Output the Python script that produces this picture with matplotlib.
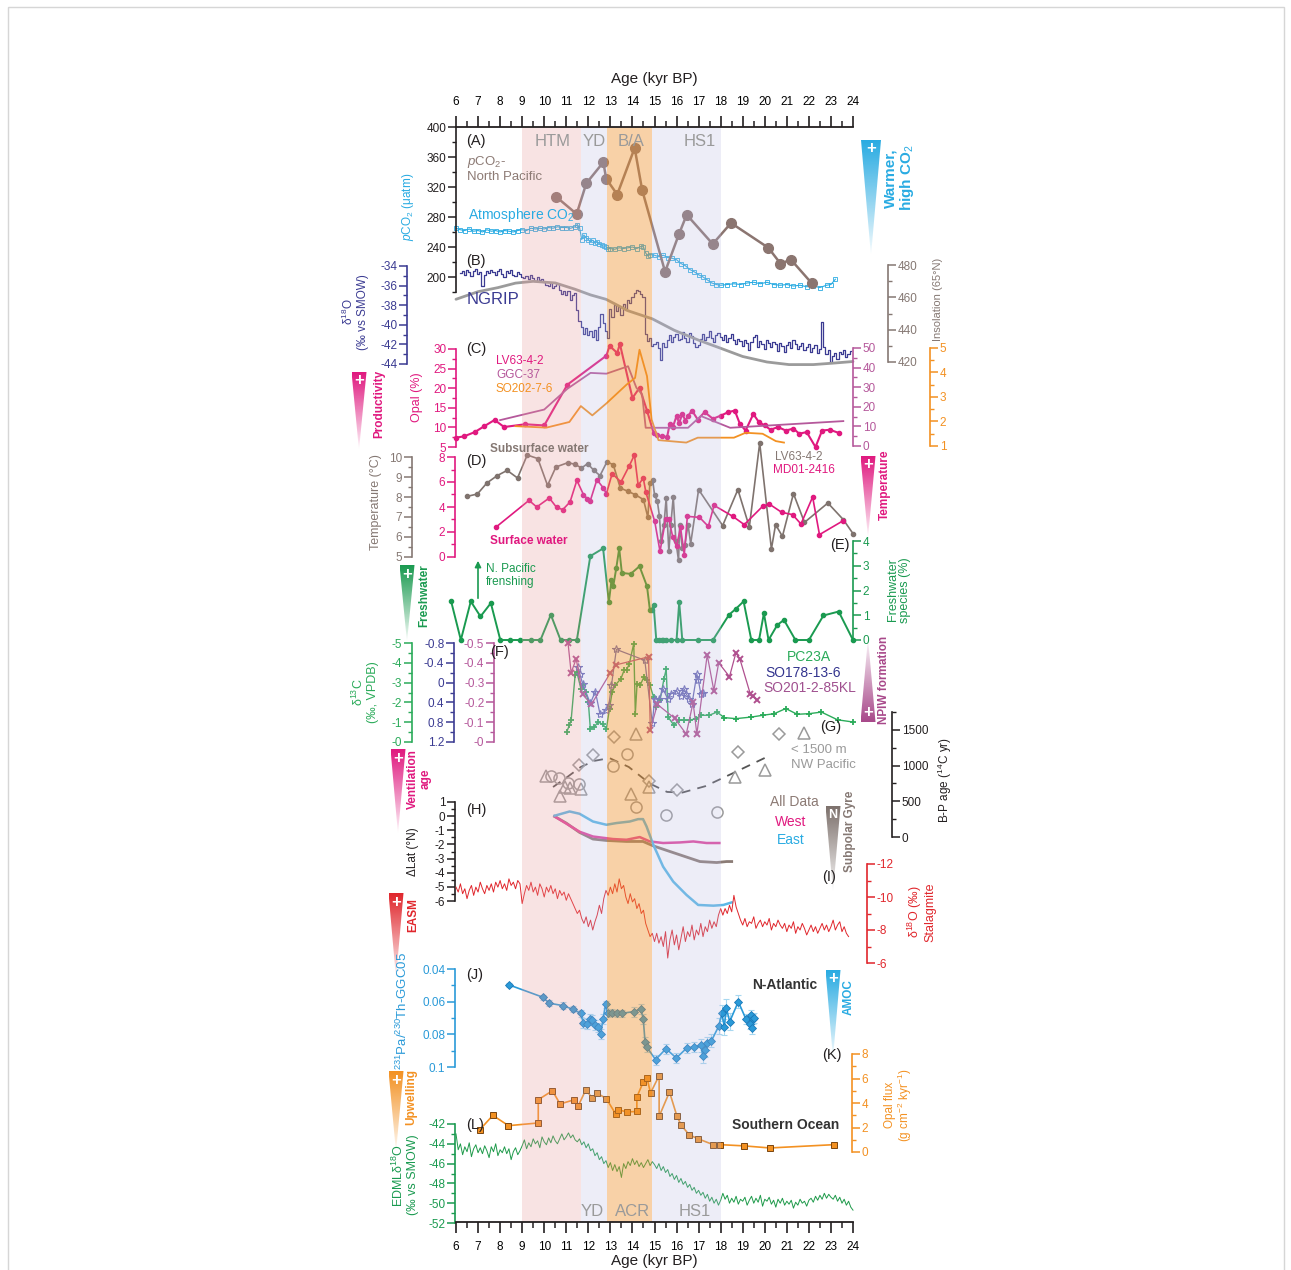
import numpy as np
import matplotlib

matplotlib.use("Agg")
import matplotlib.pyplot as plt
from matplotlib.colors import to_rgb
from matplotlib.patches import Polygon, Rectangle
from matplotlib.ticker import MultipleLocator, FuncFormatter

plt.rcParams["font.family"] = ["Liberation Sans", "DejaVu Sans"]
plt.rcParams["mathtext.fontset"] = "custom"
plt.rcParams["mathtext.rm"] = "Liberation Sans"
plt.rcParams["mathtext.it"] = "Liberation Sans:italic"
plt.rcParams["mathtext.bf"] = "Liberation Sans:bold"
plt.rcParams["axes.unicode_minus"] = False

W, H = 1291, 1270
X0, X1 = 456, 853          # pixel columns of the 6 and 24 kyr ticks
AGE_MIN, AGE_MAX = 6, 24

# ---------------- climate intervals ----------------
INTERVALS = [(9.0, 11.65, "#e89a9a", 0.27), (11.65, 12.85, "#b8b8e0", 0.25),
             (12.85, 14.87, "#f0922e", 0.42), (14.87, 18.0, "#b8b8e0", 0.25)]

# ---------------- (A) CO2 ----------------
PCO2_NPAC = [(10.54, 307), (11.47, 284), (11.91, 325), (12.68, 353), (12.81, 331),
             (13.31, 310), (14.10, 372), (14.44, 316), (15.48, 207), (16.12, 258),
             (16.46, 283), (17.64, 244), (18.47, 272), (20.16, 239), (20.71, 218),
             (21.19, 223), (22.12, 192)]
CO2_ATM = [(6.0, 265), (6.2, 263), (6.4, 262), (6.6, 264), (6.8, 261), (7.0, 262), (7.2, 260),
           (7.4, 263), (7.6, 261), (7.8, 262), (8.0, 260), (8.2, 262), (8.4, 261), (8.6, 260),
           (8.8, 262), (9.0, 263), (9.2, 262), (9.4, 265), (9.6, 264), (9.8, 265), (10.0, 264),
           (10.2, 266), (10.4, 265), (10.6, 267), (10.8, 266), (11.0, 266), (11.2, 265),
           (11.4, 267), (11.5, 270), (11.6, 266), (11.7, 250), (11.8, 256), (11.9, 252),
           (12.0, 250), (12.1, 247), (12.2, 249), (12.3, 245), (12.4, 247), (12.5, 244),
           (12.6, 243), (12.7, 241), (12.8, 240), (12.9, 238), (13.0, 238), (13.2, 237),
           (13.4, 239), (13.6, 238), (13.8, 239), (14.0, 240), (14.2, 238), (14.4, 241),
           (14.5, 240), (14.6, 232), (14.7, 228), (14.8, 230), (15.0, 229), (15.2, 227),
           (15.4, 229), (15.6, 226), (15.8, 225), (16.0, 223), (16.2, 218), (16.4, 215),
           (16.6, 210), (16.8, 207), (17.0, 203), (17.2, 200), (17.4, 196), (17.6, 192),
           (17.8, 190), (18.0, 189), (18.3, 190), (18.6, 191), (18.9, 190), (19.2, 192),
           (19.5, 193), (19.8, 191), (20.1, 193), (20.4, 190), (20.7, 189), (21.0, 190),
           (21.3, 188), (21.6, 189), (21.9, 187), (22.2, 188), (22.5, 186), (22.8, 189),
           (23.0, 190), (23.2, 197)]

# ---------------- (B) NGRIP + insolation ----------------
NGRIP_START = 6.2   # 0.1 kyr steps
NGRIP_D18O = [-34.7, -34.5, -34.9, -34.4, -34.6, -35.0, -34.5, -34.3, -34.8, -34.6, -36.0, -34.9,
              -34.5, -34.7, -34.4, -34.6, -34.9, -34.5, -34.3, -34.8, -35.1, -34.5, -34.7, -34.4,
              -34.9, -35.0, -34.6, -34.8, -35.1,
              -35.2, -35.0, -35.3, -34.9, -35.2, -35.5, -35.1, -35.4, -35.3, -35.6,
              -35.9, -36.0, -35.7, -36.2, -36.0, -35.8, -36.4, -36.9, -36.5, -37.0,
              -36.6, -37.5, -37.0, -36.8, -38.5, -39.6, -40.2,
              -40.9, -40.3, -41.0, -40.6, -41.2, -40.5, -41.5, -40.2, -38.9, -39.8, -40.6, -41.3,
              -38.4, -39.2, -38.0, -38.6, -38.2, -39.0, -37.9, -38.5, -37.5, -37.8, -37.2, -36.8,
              -36.4, -36.6, -36.9, -37.2, -40.9,
              -41.7, -41.3, -42.2, -42.0,
              -41.8, -42.4, -43.6, -41.9, -42.3, -41.5, -41.0, -41.8, -41.2, -40.9, -41.6, -41.4,
              -40.7, -41.3, -41.8, -40.8, -41.1, -41.9, -42.3, -42.1, -41.4, -40.9, -41.5, -41.2,
              -40.6, -41.3, -41.8, -41.0, -40.8, -41.2,
              -41.5, -41.0, -41.8, -41.3, -40.9, -41.6, -42.0, -41.4, -41.7, -42.2, -41.5, -41.9,
              -42.6, -41.8, -41.2, -41.0, -42.3, -41.7, -42.0, -42.5, -41.6, -41.9, -42.3, -41.8,
              -42.0, -42.7, -41.9, -42.2, -42.8, -42.1,
              -41.8, -42.4, -41.6, -42.0, -42.5, -42.2, -41.9, -42.6, -42.3, -42.0, -42.8, -42.4,
              -42.1, -42.9, -42.5, -39.7, -42.3, -43.0, -42.6, -43.8, -43.2, -42.9, -43.5, -42.8,
              -43.0, -42.6, -43.3, -43.0, -42.7]
INSOLATION = [(6.0, 458.8), (7.0, 463.5), (7.9, 466.0), (8.7, 468.8), (9.5, 469.9), (10.5, 468.9),
              (11.4, 465.0), (12.1, 461.5), (12.8, 458.8), (13.8, 451.7), (14.9, 446.7),
              (15.9, 439.6), (17.0, 433.5), (18.0, 428.5), (19.0, 423.4), (20.1, 420.0),
              (21.1, 418.4), (22.2, 418.4), (23.1, 419.3), (24.0, 420.3)]

# ---------------- (C) opal ----------------
OPAL_LV63 = [(6.0, 7.4), (6.36, 7.7), (6.85, 8.8), (7.28, 10.3), (7.75, 11.9), (8.18, 10.1),
             (9.14, 10.8), (10.0, 10.5), (11.05, 20.9), (12.82, 28.3), (12.96, 30.8),
             (13.31, 29.0), (13.43, 31.3), (14.0, 17.5), (14.32, 20.1), (14.66, 14.3),
             (14.96, 8.6), (15.13, 8.0), (15.36, 7.7), (15.57, 7.5), (15.69, 10.9), (15.83, 10.1),
             (16.0, 12.9), (16.12, 11.1), (16.26, 13.5), (16.4, 11.7), (16.52, 12.9), (16.7, 14.3),
             (16.96, 12.0), (17.27, 13.9), (17.65, 12.2), (18.0, 13.0), (18.35, 13.9),
             (18.64, 14.3), (18.87, 10.9), (19.13, 9.2), (19.48, 13.4), (19.74, 11.3),
             (20.0, 10.5), (20.26, 9.4), (20.6, 10.1), (20.95, 9.2), (21.3, 9.7), (21.56, 8.4),
             (21.9, 8.8), (22.3, 5.0), (22.6, 9.2), (22.95, 9.4), (23.35, 8.6)]
OPAL_GGC37 = [(8.0, 13.2), (10.0, 18.6), (11.05, 29.2), (12.1, 37.3), (12.82, 36.9),
              (13.8, 40.7), (14.18, 29.7), (14.44, 26.3), (14.6, 9.3), (16.52, 9.3),
              (17.1, 15.3), (18.43, 9.3), (23.56, 12.7)]
OPAL_SO202 = [(8.7, 1.81), (10.1, 1.75), (11.14, 1.98), (11.66, 2.63), (12.18, 2.25),
              (12.82, 2.74), (13.74, 3.51), (14.12, 3.78), (14.32, 4.93), (14.66, 3.85),
              (14.87, 2.08), (15.18, 1.24), (16.44, 1.14), (16.96, 1.34), (18.6, 1.34),
              (19.13, 1.54), (19.9, 1.5), (20.5, 1.2), (20.87, 1.14)]

# ---------------- (D) temperature ----------------
T_SUBSURFACE = [(6.5, 8.03), (6.97, 8.15), (7.4, 8.7), (7.87, 9.07), (8.32, 9.33), (8.79, 8.95),
                (9.23, 10.1), (9.71, 9.92), (10.15, 8.58), (10.53, 9.5), (11.08, 9.72),
                (11.4, 9.63), (11.69, 9.45), (11.97, 9.67), (12.25, 9.33), (12.53, 9.07),
                (12.84, 9.75), (13.13, 9.62), (13.45, 8.45), (13.8, 8.28), (14.12, 8.12),
                (14.5, 7.87), (14.7, 6.98), (14.79, 8.7), (14.92, 8.83), (15.0, 8.12),
                (15.13, 7.78), (15.22, 7.07), (15.3, 5.78), (15.43, 6.62), (15.53, 7.95),
                (15.65, 5.28), (15.74, 6.62), (15.85, 8.0), (15.97, 5.78), (16.09, 4.83),
                (16.14, 6.58), (16.26, 5.45), (16.38, 5.62), (16.52, 6.62), (16.64, 5.67),
                (17.0, 8.37), (18.09, 6.57), (18.78, 8.37), (19.3, 6.5), (19.77, 10.7),
                (20.3, 5.4), (20.49, 6.62), (20.8, 6.03), (21.3, 8.17), (21.8, 6.73),
                (22.86, 7.7), (23.56, 6.87), (24.0, 6.17)]
T_SURFACE = [(7.8, 2.37), (9.31, 4.53), (9.66, 4.0), (10.23, 4.72), (10.56, 3.97), (10.84, 3.79),
             (11.17, 4.4), (11.48, 6.13), (11.78, 4.99), (11.95, 4.67), (12.09, 4.51),
             (12.39, 6.19), (12.68, 5.52), (12.82, 5.07), (13.08, 6.67), (13.48, 6.0),
             (13.86, 7.31), (14.09, 8.16), (14.26, 5.73), (14.49, 6.32), (14.61, 5.17),
             (15.01, 2.85), (15.25, 0.45), (15.51, 3.07), (15.65, 3.04), (15.83, 1.57),
             (16.0, 0.85), (16.18, 2.37), (16.35, 0.19), (16.49, 3.25), (17.04, 3.17),
             (17.44, 2.45), (17.7, 4.13), (18.55, 3.25), (19.07, 2.59), (19.9, 4.05),
             (20.2, 4.24), (20.77, 3.57), (21.26, 3.39), (21.64, 2.64), (22.17, 4.8),
             (22.48, 1.79), (23.56, 2.91)]

# ---------------- (E) freshwater diatoms ----------------
FRESHWATER = [(5.78, 1.56), (6.22, 0), (6.67, 1.56), (7.11, 0.95), (7.58, 1.49), (8.01, 0),
              (8.44, 0), (8.91, 0), (9.38, 0), (9.83, 0), (10.3, 1.02), (10.74, 0), (11.14, 0),
              (11.48, 0), (12.09, 3.39), (12.67, 3.70), (12.93, 1.53), (13.05, 2.41),
              (13.13, 2.17), (13.27, 2.92), (13.4, 3.70), (13.52, 2.71), (13.92, 2.67),
              (14.32, 2.98), (14.66, 2.17), (14.79, 1.22), (14.87, 1.22), (14.96, 1.42),
              (15.08, 0), (15.2, 0), (15.32, 0), (15.4, 0), (15.5, 0), (15.75, 0), (16.0, 0),
              (16.12, 1.53), (16.26, 0), (16.96, 0), (17.65, 0), (18.38, 1.02), (18.69, 1.26),
              (19.04, 1.56), (19.39, 0), (19.74, 0), (19.96, 1.08), (20.17, 0), (20.57, 0.61),
              (20.87, 0.81), (21.39, 0), (22.0, 0), (22.66, 0.99), (23.35, 1.15), (24.0, 0)]

# ---------------- (F) benthic d13C ----------------
D13C_PC23A = [(11.02, -0.51), (11.14, -0.84), (11.22, -1.1), (11.4, -3.37), (11.48, -3.54),
              (11.66, -2.7), (11.74, -2.87), (11.88, -2.53), (12.0, -2.02), (12.09, -0.68),
              (12.27, -0.76), (12.44, -1.01), (12.65, -0.89), (12.82, -0.68), (12.96, -1.69),
              (13.08, -2.53), (13.22, -2.87), (13.48, -3.2), (13.62, -3.62), (13.74, -3.65),
              (13.86, -3.96), (14.06, -4.97), (14.13, -1.43), (14.21, -2.95), (14.35, -2.87),
              (14.52, -3.28), (14.66, -3.11), (14.79, -2.87), (14.96, -2.27), (15.08, -1.77),
              (15.25, -2.1), (15.43, -3.2), (15.53, -3.67), (15.62, -1.26), (15.88, -0.84),
              (16.09, -1.1), (16.35, -1.1), (16.6, -1.1), (16.87, -1.18), (17.13, -1.35),
              (17.48, -1.35), (17.83, -1.51), (18.17, -1.23), (18.69, -1.18), (19.39, -1.26),
              (19.91, -1.35), (20.43, -1.43), (20.95, -1.69), (21.47, -1.4), (22.0, -1.43),
              (22.57, -1.51), (23.3, -1.12), (24.0, -1.01)]
D13C_SO178 = [(11.52, -0.32), (11.61, -0.18), (11.74, 0.02), (12.09, 0.42), (12.32, 0.18),
              (12.53, 0.64), (12.82, 0.56), (12.93, 0.46), (13.05, 0.05), (13.27, -0.67),
              (14.56, -0.45), (14.9, 0.82), (15.01, 0.33), (15.22, 0.33), (15.39, 0.13),
              (15.6, 0.33), (15.74, 0.23), (16.0, 0.17), (16.18, 0.27), (16.35, 0.13),
              (16.44, 0.23), (16.57, 0.33), (16.7, 0.43), (16.92, -0.17), (16.99, -0.05),
              (17.1, 0.23), (17.21, 0.2)]
D13C_SO201 = [(11.08, -0.5), (11.22, -0.35), (11.45, -0.42), (11.74, -0.24), (12.14, -0.19),
              (13.0, -0.35), (13.27, -0.39), (14.73, -0.43), (14.81, -0.06), (15.13, -0.19),
              (15.91, -0.12), (16.44, -0.04), (16.75, -0.2), (16.92, -0.04), (17.39, -0.44),
              (17.69, -0.26), (17.91, -0.4), (18.4, -0.33), (18.69, -0.45), (18.87, -0.42),
              (19.35, -0.24), (19.48, -0.23), (19.65, -0.21)]

# ---------------- (G) B-P ventilation ages ----------------
BP_DIAMOND = [(11.57, 1005), (12.23, 1155), (13.17, 1402), (14.75, 781), (16.04, 664),
              (18.78, 1192), (20.64, 1440)]
BP_TRIANGLE = [(10.09, 855), (10.7, 575), (10.96, 701), (11.19, 690), (11.66, 668),
               (13.95, 608), (14.18, 1440), (14.75, 701), (18.66, 841), (20.03, 945),
               (21.79, 1458)]
BP_CIRCLE = [(10.3, 850), (10.65, 827), (11.1, 760), (11.57, 748), (13.13, 995), (13.74, 1159),
             (14.18, 421), (15.53, 304), (17.83, 350)]
BP_TREND = [(10.4, 700), (11.05, 841), (11.66, 981), (12.27, 1066), (12.96, 1105), (13.83, 981),
            (14.79, 748), (15.57, 631), (16.26, 622), (17.3, 711), (18.52, 888), (20.0, 1107)]

# ---------------- (H) Kuroshio-Oyashio front shift ----------------
DLAT_ALL = [(10.47, -0.02), (11.0, -0.49), (11.6, -1.15), (12.21, -1.62), (12.82, -1.72),
            (13.73, -1.79), (14.48, -1.79), (14.94, -2.1), (15.7, -2.5), (16.6, -2.97),
            (17.06, -3.21), (17.82, -3.28), (18.27, -3.21), (18.5, -3.21)]
DLAT_WEST = [(10.47, -0.02), (11.6, -1.1), (12.21, -1.44), (13.12, -1.62), (13.73, -1.67),
             (14.33, -1.48), (14.79, -1.79), (15.39, -1.9), (16.15, -1.86), (16.76, -1.79),
             (17.36, -1.9), (17.94, -1.9)]
DLAT_EAST = [(10.47, 0.03), (11.15, 0.33), (11.6, 0.17), (12.21, -0.38), (12.82, -0.61),
             (13.27, -0.49), (13.88, -0.38), (14.26, -0.21), (14.48, -0.21), (14.64, -0.73),
             (14.94, -2.0), (15.39, -3.57), (15.85, -4.63), (16.45, -5.57), (16.98, -6.28),
             (17.67, -6.33), (18.12, -6.28), (18.5, -6.1)]

# ---------------- (I) Chinese stalagmite d18O ----------------
STAL_START = 6.0   # 0.1 kyr steps
STAL_D18O = [-10.6, -10.3, -10.8, -10.2, -10.5, -9.9, -10.4, -10.7, -10.1, -10.6, -10.3, -10.9,
             -10.5, -10.2, -10.7, -10.4, -10.8, -10.3, -10.9, -10.6, -11.0, -10.5, -10.8, -10.4,
             -11.1, -10.7, -10.9, -10.5, -11.0, -10.8, -9.6,
             -10.2, -10.7, -10.4, -10.9, -10.3, -10.6, -10.1, -10.8, -10.5, -10.0, -10.6, -10.3,
             -10.7, -10.2, -10.5, -9.9, -10.4, -10.1, -10.3, -9.8, -10.2, -9.9, -9.6,
             -9.3, -9.0, -9.2, -8.7, -8.4, -8.8, -8.2, -8.6, -8.0, -8.5, -8.9,
             -9.5, -9.0, -9.9, -10.4, -10.1, -10.6, -10.2, -10.8, -10.3, -11.1, -10.5, -10.7,
             -10.0, -9.6, -10.2, -9.7, -9.9, -9.3, -9.6, -9.0, -9.2,
             -8.4, -8.0, -7.6, -7.8, -7.3,
             -7.8, -7.2, -7.6, -7.0, -7.9, -6.3, -7.4, -8.0, -7.1, -7.7, -6.8, -7.5, -8.2, -7.3,
             -7.9, -7.6, -8.3, -7.4, -8.0, -7.7, -8.4, -7.6, -8.2, -7.9, -8.6, -8.1, -8.5, -8.2,
             -8.9, -9.3,
             -8.9, -9.3, -9.0, -9.5, -9.1, -10.1, -9.4, -9.0,
             -8.6, -8.3, -8.7, -8.2, -8.5, -8.4, -8.8, -8.1, -8.4, -8.6,
             -8.2, -8.5, -8.3, -8.7, -8.0, -8.4, -8.2, -8.6, -8.3, -8.1,
             -8.4, -7.9, -8.3, -8.1, -8.5, -7.8, -8.2, -8.0, -8.4, -8.1,
             -7.7, -8.0, -8.3, -7.9, -8.2, -7.8, -8.1, -8.4, -8.0, -8.3,
             -7.9, -8.2, -8.6, -8.0, -8.3, -8.5, -7.9, -8.2, -7.8, -7.6]

# ---------------- (J) Bermuda Rise 231Pa/230Th ----------------
PA_TH = [(8.42, 0.0498, 0.001), (9.94, 0.0573, 0.0015), (10.22, 0.0609, 0.002),
         (10.84, 0.0624, 0.002), (11.29, 0.0646, 0.002), (11.65, 0.0671, 0.002),
         (11.78, 0.0732, 0.003), (11.96, 0.0736, 0.003), (12.07, 0.0707, 0.003),
         (12.17, 0.0712, 0.003), (12.28, 0.0742, 0.003), (12.43, 0.0758, 0.003),
         (12.56, 0.0797, 0.003), (12.67, 0.0705, 0.003), (12.78, 0.0616, 0.002),
         (12.87, 0.0671, 0.002), (13.06, 0.0667, 0.002), (13.29, 0.0671, 0.002),
         (13.52, 0.0671, 0.002), (14.07, 0.0661, 0.003), (14.38, 0.0644, 0.003),
         (14.49, 0.0705, 0.003), (14.57, 0.0844, 0.003), (14.65, 0.0878, 0.003),
         (15.05, 0.0955, 0.003), (15.52, 0.0888, 0.003), (15.99, 0.0945, 0.003),
         (16.46, 0.0884, 0.003), (16.77, 0.0878, 0.003), (17.11, 0.0868, 0.004),
         (17.19, 0.0935, 0.004), (17.27, 0.0896, 0.004), (17.39, 0.0854, 0.004),
         (17.58, 0.0840, 0.004), (17.92, 0.0748, 0.005), (18.05, 0.0671, 0.005),
         (18.17, 0.0755, 0.005), (18.25, 0.0636, 0.005), (18.41, 0.0722, 0.005),
         (18.8, 0.0600, 0.004), (19.14, 0.0705, 0.003), (19.37, 0.0681, 0.003),
         (19.45, 0.0705, 0.003), (19.32, 0.0735, 0.003), (19.4, 0.0760, 0.004),
         (19.5, 0.0700, 0.003)]

# ---------------- (K) Southern Ocean opal flux ----------------
OPAL_FLUX = [(7.08, 1.82), (7.67, 2.99), (8.38, 2.15), (9.73, 2.37), (9.73, 4.27), (10.37, 5.0),
             (10.72, 3.92), (11.37, 4.27), (11.53, 3.72), (11.89, 5.09), (12.17, 4.41),
             (12.39, 4.82), (12.82, 4.35), (13.24, 3.1), (13.34, 3.45), (13.76, 3.27),
             (14.2, 3.31), (14.2, 4.49), (14.49, 5.71), (14.66, 6.04), (14.82, 4.82),
             (15.21, 6.23), (15.21, 2.91), (15.68, 4.9), (16.02, 2.91), (16.22, 2.17),
             (16.57, 1.41), (16.96, 1.09), (17.66, 0.6), (17.97, 0.6), (19.06, 0.5),
             (20.23, 0.33), (23.15, 0.6)]

# ---------------- (L) EDML d18O ----------------
EDML_START = 6.0   # 0.1 kyr steps
EDML_D18O = [-43.0, -44.6, -44.0, -45.1, -44.3, -44.8, -43.9, -45.3, -44.5, -44.1, -44.9, -44.4,
             -45.0, -44.2, -44.7, -45.4, -44.3, -44.8, -44.0, -45.2, -44.6, -44.9, -44.3, -45.0,
             -44.5, -45.6, -44.8, -44.4, -45.1, -44.7,
             -44.2, -43.6, -44.5, -43.9, -44.3, -43.5, -44.0, -43.7, -44.4, -43.3, -43.8, -44.1,
             -43.4, -43.9, -43.2, -43.7, -44.0, -43.5, -43.0, -43.6, -43.3, -42.9, -43.4, -43.1,
             -43.6, -43.8,
             -43.5, -44.1, -43.8, -44.4, -44.0, -44.7, -44.5, -45.2, -44.9, -45.6, -45.3, -46.0,
             -45.7,
             -46.4, -45.9, -46.7, -46.1, -46.8, -46.3, -47.4, -46.0, -46.5, -45.8, -46.2, -45.5,
             -46.1, -45.7, -46.3, -45.9, -46.4, -46.0, -45.6, -46.2, -45.8,
             -46.1, -46.5, -46.0, -46.7, -46.3, -46.9, -46.6, -47.3, -47.0, -47.6, -47.2, -47.9,
             -47.5, -48.1, -47.8, -48.4, -48.1, -48.7, -48.4, -49.0, -48.7, -49.2, -48.9, -49.5,
             -49.1, -49.8, -49.4, -50.0, -49.6, -50.2, -49.7,
             -49.0, -49.6, -49.2, -50.0, -49.5, -49.9, -49.3, -50.1, -49.6, -49.8,
             -49.4, -50.2, -49.7, -49.3, -50.0, -49.5, -49.9, -49.2, -50.3, -49.6,
             -49.8, -49.4, -50.1, -49.7, -50.4, -49.6, -50.0, -49.5, -50.2, -49.8,
             -50.1, -49.7, -50.5, -49.9, -50.2, -49.6, -50.0, -49.8, -50.3, -49.7,
             -49.5, -49.9, -49.3, -49.7, -49.2, -49.6, -49.0, -49.5, -49.1, -49.4,
             -49.6, -49.2, -49.8, -49.4, -50.0, -49.6, -50.2, -49.8, -50.4, -50.7]

# ---------------- colours ----------------
BLACK = "#231f20"
CYAN = "#29abe2"
TAUPE = "#857873"
NAVY = "#3b3b92"
MAGENTA = "#e0197f"
PURPLE = "#b5589b"
ORANGE = "#f39122"
GREEN = "#1a9a50"
GREEN2 = "#2bab5a"
RED = "#e0262c"
BLUE = "#2a9ad8"
GREY = "#9a9a9a"


def cols(pairs):
    a = np.array(pairs, dtype=float)
    return a[:, 0], a[:, 1]


fig = plt.figure(figsize=(W / 100, H / 100), dpi=100)


def fx(px):
    return (px - X0) / (X1 - X0)


def label_fmt(neg_zero=False):
    def f(v, _):
        v = round(v, 6)
        if abs(v) < 1e-9:
            return "-0" if neg_zero else "0"
        return f"{v:g}"
    return FuncFormatter(f)


def panel(top, bottom, vtop, vbot):
    ax = fig.add_axes([X0 / W, 1 - bottom / H, (X1 - X0) / W, (bottom - top) / H])
    ax.set_xlim(AGE_MIN, AGE_MAX)
    ax.set_ylim(vbot, vtop)
    ax.patch.set_visible(False)
    for s in ax.spines.values():
        s.set_visible(False)
    ax.xaxis.set_visible(False)
    ax.yaxis.set_visible(False)
    return ax


def yscale(ax, side, spine_px, color, major, minor, neg_zero=False):
    ax.yaxis.set_visible(True)
    sp = ax.spines[side]
    sp.set_visible(True)
    sp.set_position(("axes", fx(spine_px)))
    sp.set_color(color)
    sp.set_linewidth(1.2)
    ax.yaxis.set_ticks_position(side)
    ax.yaxis.set_major_locator(MultipleLocator(major))
    ax.yaxis.set_minor_locator(MultipleLocator(minor))
    ax.yaxis.set_major_formatter(label_fmt(neg_zero))
    ax.tick_params(axis="y", which="major", length=5.5, width=1.1, color=color,
                   labelcolor=color, labelsize=8.5, pad=1.5)
    ax.tick_params(axis="y", which="minor", length=3, width=1.0, color=color)


def T(x, y, s, **kw):
    kw.setdefault("va", "center")
    kw.setdefault("ha", "left")
    kw.setdefault("zorder", 30)
    return fig.text(x / W, 1 - y / H, s, **kw)


def ylabel(x, y, s, color, size=8.5, **kw):
    T(x, y, s, color=color, fontsize=size, rotation=90, ha="center",
      multialignment="center", linespacing=1.05, **kw)


# ---- (A) ----
axA = panel(127, 292, 400, 180)
yscale(axA, "left", 456, BLACK, 40, 20)
x, y = cols(CO2_ATM)
axA.plot(x, y, color=CYAN, lw=0.8, marker="s", ms=2.4, mfc="none", mew=0.6, clip_on=False)
x, y = cols(PCO2_NPAC)
axA.plot(x, y, color="#8b7570", lw=1.8, marker="o", ms=7, clip_on=False)

# ---- (B) ----
axB = panel(266, 364, -34, -44)
yscale(axB, "left", 407, NAVY, 2, 1)
ages = NGRIP_START + 0.1 * np.arange(len(NGRIP_D18O))
axB.plot(ages, NGRIP_D18O, color=NAVY, lw=0.9, drawstyle="steps-mid", clip_on=False)
axIns = panel(265, 362, 480, 420)
yscale(axIns, "right", 888, TAUPE, 20, 10)
x, y = cols(INSOLATION)
axIns.plot(x, y, color="#9b9b9b", lw=2.0, clip_on=False, solid_capstyle="round")

# ---- (C) ----
axC = panel(349, 447, 30, 5)
yscale(axC, "left", 456, MAGENTA, 5, 2.5)
axC2 = panel(348, 446, 50, 0)
yscale(axC2, "right", 853, PURPLE, 10, 5)
axC3 = panel(348, 446, 5, 1)
yscale(axC3, "right", 930, ORANGE, 1, 0.5)
x, y = cols(OPAL_SO202)
axC3.plot(x, y, color=ORANGE, lw=1.3, clip_on=False)
x, y = cols(OPAL_GGC37)
axC2.plot(x, y, color=PURPLE, lw=1.3, clip_on=False)
x, y = cols(OPAL_LV63)
axC.plot(x, y, color=MAGENTA, lw=1.5, marker="o", ms=3, clip_on=False)

# ---- (D) ----
axD = panel(457, 557, 10, 5)
yscale(axD, "left", 412, TAUPE, 1, 0.5)
axD2 = panel(457, 557, 8, 0)
yscale(axD2, "left", 455, MAGENTA, 2, 1)
x, y = cols(T_SUBSURFACE)
axD.plot(x, y, color="#7f736e", lw=1.2, marker="o", ms=3, clip_on=False)
x, y = cols(T_SURFACE)
axD2.plot(x, y, color=MAGENTA, lw=1.2, marker="o", ms=3, clip_on=False)

# ---- (E) ----
axE = panel(541, 640, 4, 0)
yscale(axE, "right", 853, GREEN, 1, 0.5)
x, y = cols(FRESHWATER)
axE.plot(x, y, color=GREEN, lw=1.4, marker="o", ms=3, clip_on=False)

# ---- (F) ----
axF1 = panel(643, 742, -5, 0)
yscale(axF1, "left", 412, GREEN2, 1, 0.5, neg_zero=True)
axF2 = panel(643, 742, -0.8, 1.2)
yscale(axF2, "left", 454, NAVY, 0.4, 0.2)
axF3 = panel(643, 742, -0.5, 0)
yscale(axF3, "left", 494, PURPLE, 0.1, 0.05, neg_zero=True)
x, y = cols(D13C_SO201)
axF3.plot(x, y, color="#b0508f", lw=0.9, marker="x", ms=5, mew=1.4, clip_on=False)
x, y = cols(D13C_SO178)
axF2.plot(x, y, color="#6a6ab5", lw=0.9, marker="*", ms=6, mfc="none", mew=0.8, clip_on=False)
x, y = cols(D13C_PC23A)
axF1.plot(x, y, color=GREEN2, lw=1.0, marker="+", ms=5, mew=1.3, clip_on=False)

# ---- (G) ----
axG = panel(712, 837, 1750, 0)
yscale(axG, "right", 892, BLACK, 500, 250)
x, y = cols(BP_TREND)
axG.plot(x, y, color="#555555", lw=1.3, ls=(0, (5, 4)), clip_on=False)
for pts, mk, sz in ((BP_DIAMOND, "D", 6), (BP_TRIANGLE, "^", 8), (BP_CIRCLE, "o", 8)):
    x, y = cols(pts)
    axG.plot(x, y, ls="none", marker=mk, ms=sz, mfc="none", mec=GREY, mew=1.1, clip_on=False)

# ---- (H) ----
axH = panel(802, 901, 1, -6)
yscale(axH, "left", 455, BLACK, 1, 0.5)
x, y = cols(DLAT_ALL)
axH.plot(x, y, color="#8b7c76", lw=2.0, clip_on=False)
x, y = cols(DLAT_WEST)
axH.plot(x, y, color="#e0479e", lw=1.8, clip_on=False)
x, y = cols(DLAT_EAST)
axH.plot(x, y, color="#5bb8e6", lw=1.8, clip_on=False)

# ---- (I) ----
axI = panel(864, 963, -12, -6)
yscale(axI, "right", 867, RED, 2, 1)
ages = STAL_START + 0.1 * np.arange(len(STAL_D18O))
axI.plot(ages, STAL_D18O, color=RED, lw=0.7, clip_on=False)

# ---- (J) ----
axJ = panel(969, 1067, 0.04, 0.1)
yscale(axJ, "left", 455, BLUE, 0.02, 0.01)
pa = np.array(PA_TH)
axJ.errorbar(pa[:, 0], pa[:, 1], yerr=pa[:, 2], fmt="none", ecolor="#a8d8f0", elinewidth=0.8,
             capsize=2.5, capthick=0.8, clip_on=False)
axJ.plot(pa[:, 0], pa[:, 1], color=BLUE, lw=1.2, marker="D", ms=4.5, mec="#1a78b8", mew=0.6,
         clip_on=False)

# ---- (K) ----
axK = panel(1054, 1152, 8, 0)
yscale(axK, "right", 852, ORANGE, 2, 1)
x, y = cols(OPAL_FLUX)
axK.plot(x, y, color=ORANGE, lw=1.2, marker="s", ms=5, mec="#7a4510", mew=0.7, clip_on=False)

# ---- (L) ----
axL = panel(1124, 1223, -42, -52)
yscale(axL, "left", 455, GREEN, 2, 1)
ages = EDML_START + 0.1 * np.arange(len(EDML_D18O))
axL.plot(ages, EDML_D18O, color="#1e9a4a", lw=0.7, clip_on=False)

# ---- interval shading and the shared age axis ----
axT = fig.add_axes([X0 / W, 1 - 1222 / H, (X1 - X0) / W, (1222 - 127) / H])
axT.set_zorder(5)
axT.patch.set_visible(False)
axT.set_xlim(AGE_MIN, AGE_MAX)
axT.set_ylim(0, 1)
axT.yaxis.set_visible(False)
for side in ("left", "right"):
    axT.spines[side].set_visible(False)
for side in ("top", "bottom"):
    axT.spines[side].set_linewidth(1.3)
    axT.spines[side].set_color(BLACK)
for a, b, c, al in INTERVALS:
    axT.axvspan(a, b, color=c, alpha=al, lw=0)
axT.xaxis.set_major_locator(MultipleLocator(1))
axT.xaxis.set_minor_locator(MultipleLocator(0.5))
axT.tick_params(axis="x", which="both", top=True, bottom=True, labeltop=True, labelbottom=True,
                direction="out", color=BLACK, labelsize=8.5, pad=6)
axT.tick_params(axis="x", which="major", length=8, width=1.2)
axT.tick_params(axis="x", which="minor", length=4, width=1.1)

# ---- overlay in pixel coordinates: direction wedges ----
ov = fig.add_axes([0, 0, 1, 1])
ov.set_zorder(20)
ov.patch.set_visible(False)
ov.axis("off")


def wedge(cx, top, bottom, w, color, sym="+", up=False):
    rgb = to_rgb(color)
    n = 128
    grad = np.ones((n, 1, 4))
    grad[:, 0, :3] = rgb
    fade = np.linspace(1, 0, n) ** 0.9
    grad[:, 0, 3] = fade[::-1] if up else fade
    im = ov.imshow(grad, extent=(cx - w / 2, cx + w / 2, bottom, top), aspect="auto",
                   interpolation="bilinear", zorder=1)
    if up:
        pts = [(cx - w / 2, bottom), (cx + w / 2, bottom), (cx, top)]
        sy = bottom - 9
    else:
        pts = [(cx - w / 2, top), (cx + w / 2, top), (cx, bottom)]
        sy = top + 9
    poly = Polygon(pts, closed=True, fc="none", ec="none")
    ov.add_patch(poly)
    im.set_clip_path(poly)
    ov.text(cx, sy, sym, color="white", fontsize=12 if sym == "+" else 9, fontweight="bold",
            ha="center", va="center", zorder=2)


wedge(871, 140, 256, 20, CYAN)
wedge(359, 372, 450, 15, MAGENTA)
wedge(868, 456, 538, 15, MAGENTA)
wedge(407, 565, 642, 15, GREEN)
wedge(868, 638, 722, 15, "#a8488a", up=True)
wedge(398, 749, 834, 15, MAGENTA)
wedge(833, 806, 892, 15, "#7d716c", sym="N")
wedge(396, 893, 978, 15, RED)
wedge(833, 970, 1058, 15, CYAN)
wedge(396, 1071, 1152, 15, ORANGE)

ov.annotate("", xy=(478, 558), xytext=(478, 601),
            arrowprops=dict(arrowstyle="-|>", color=GREEN, lw=1.2, mutation_scale=9))
ov.add_patch(Rectangle((8, 7), 1276, 1270, fc="none", ec="#d6d6d6", lw=1.0))
ov.set_xlim(0, W)
ov.set_ylim(H, 0)

# ---- text ----
T(654, 79, "Age (kyr BP)", fontsize=11, ha="center", color=BLACK)
T(654, 1261, "Age (kyr BP)", fontsize=11, ha="center", color=BLACK)
for s, xc in (("HTM", 553), ("YD", 594), ("B/A", 631), ("HS1", 700)):
    T(xc, 141, s, fontsize=12, ha="center", color=GREY)
for s, xc in (("YD", 592), ("ACR", 633), ("HS1", 695)):
    T(xc, 1211, s, fontsize=12, ha="center", color=GREY)

for s, xp, yp in (("(A)", 466, 141), ("(B)", 466, 261), ("(C)", 466, 349), ("(D)", 466, 461),
                  ("(E)", 830, 545), ("(F)", 490, 652), ("(G)", 820, 727), ("(H)", 466, 810),
                  ("(I)", 822, 877), ("(J)", 466, 975), ("(K)", 822, 1055), ("(L)", 466, 1125)):
    T(xp, yp, s, fontsize=10.5, color=BLACK)

T(467, 162, r"$\mathit{p}$CO$_2$-", fontsize=9.5, color="#8c7a74")
T(467, 177, "North Pacific", fontsize=9.5, color="#8c7a74")
T(468, 215, r"Atmosphere CO$_2$", fontsize=10, color=CYAN)
T(467, 300, "NGRIP", fontsize=12, color=NAVY)
T(496, 361, "LV63-4-2", fontsize=8.5, color=MAGENTA)
T(496, 375, "GGC-37", fontsize=8.5, color=PURPLE)
T(496, 389, "SO202-7-6", fontsize=8.5, color=ORANGE)
T(490, 449, "Subsurface water", fontsize=8.5, fontweight="bold", color=TAUPE)
T(775, 457, "LV63-4-2", fontsize=8.5, color=TAUPE)
T(773, 470, "MD01-2416", fontsize=8.5, color=MAGENTA)
T(490, 541, "Surface water", fontsize=8.5, fontweight="bold", color=MAGENTA)
T(486, 569, "N. Pacific", fontsize=8.5, color=GREEN)
T(486, 582, "frenshing", fontsize=8.5, color=GREEN)
T(787, 657, "PC23A", fontsize=10, color=GREEN2)
T(765, 673, "SO178-13-6", fontsize=10, color="#33348e")
T(763, 688, "SO201-2-85KL", fontsize=10, color="#a0508f")
T(791, 750, "< 1500 m", fontsize=9.5, color=GREY)
T(791, 765, "NW Pacific", fontsize=9.5, color=GREY)
T(770, 802, "All Data", fontsize=10, color="#8c7a74")
T(775, 822, "West", fontsize=10, color=MAGENTA)
T(777, 840, "East", fontsize=10, color=CYAN)
T(752, 985, "N-Atlantic", fontsize=10, fontweight="bold", color="#333333")
T(732, 1125, "Southern Ocean", fontsize=10, fontweight="bold", color="#333333")

# rotated axis titles and wedge captions
ylabel(408, 207, r"$\mathit{p}$CO$_2$ (μatm)", CYAN)
ylabel(355, 312, "δ$^{18}$O\n(‰ vs SMOW)", NAVY)
ylabel(938, 299, "Insolation (65°N)", TAUPE, size=8)
ylabel(417, 397, "Opal (%)", MAGENTA, size=9)
ylabel(376, 502, "Temperature (°C)", TAUPE, size=9)
ylabel(899, 590, "Freshwater\nspecies (%)", GREEN, size=9)
ylabel(365, 692, "δ$^{13}$C\n(‰, VPDB)", GREEN2, size=9)
ylabel(945, 780, "B-P age ($^{14}$C yr)", BLACK)
ylabel(413, 852, "ΔLat (°N)", BLACK)
ylabel(921, 912, "δ$^{18}$O (‰)\nStalagmite", RED, size=9)
ylabel(402, 1011, "$^{231}$Pa/$^{230}$Th-GGC05", BLUE, size=9.5)
ylabel(899, 1105, "Opal flux\n(g cm$^{-2}$ kyr$^{-1}$)", ORANGE)
ylabel(405, 1175, "EDMLδ$^{18}$O\n(‰ vs SMOW)", GREEN, size=9)

ylabel(900, 178, "Warmer,\nhigh CO$_2$", CYAN, size=11, fontweight="bold")
ylabel(379, 404, "Productivity", MAGENTA, fontweight="bold")
ylabel(885, 485, "Temperature", MAGENTA, fontweight="bold")
ylabel(424, 596, "Freshwater", GREEN, fontweight="bold")
ylabel(884, 680, "NPIW formation", "#a8488a", fontweight="bold")
ylabel(419, 779, "Ventilation\nage", MAGENTA, fontweight="bold")
ylabel(850, 831, "Subpolar Gyre", TAUPE, fontweight="bold")
ylabel(413, 915, "EASM", RED, fontweight="bold")
ylabel(849, 997, "AMOC", CYAN, fontweight="bold")
ylabel(411, 1097, "Upwelling", ORANGE, fontweight="bold")

fig.savefig("out.png", dpi=100)
